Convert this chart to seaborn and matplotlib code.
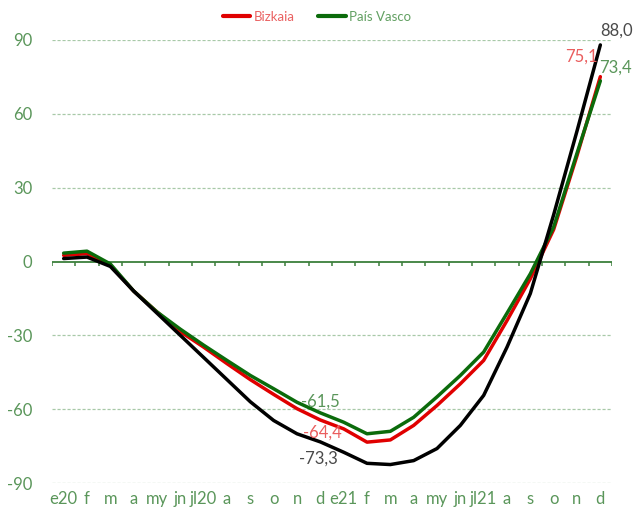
import matplotlib
matplotlib.use("Agg")
import matplotlib.pyplot as plt
import seaborn as sns
import numpy as np
import pandas as pd

months = ['e20', 'f', 'm', 'a', 'my', 'jn', 'jl20', 'a', 's', 'o', 'n', 'd',
          'e21', 'f', 'm', 'a', 'my', 'jn', 'jl21', 'a', 's', 'o', 'n', 'd']
bizkaia = [2.5, 3.2, -1.5, -12, -20.5, -28.5, -34.8, -41.5, -48, -54, -59.8, -64.4,
           -68, -73.4, -72.5, -66.6, -58.5, -49.7, -40.2, -24, -7, 13, 43, 75.1]
pais_vasco = [3.4, 4.2, -1, -12, -20.5, -27.5, -34, -40.2, -46.3, -51.7, -57.2, -61.5,
              -65.3, -70, -69, -63.3, -55, -46.3, -36.8, -21, -5, 14, 44, 73.4]
total = [1.2, 1.8, -2, -12, -21, -30, -39, -48, -57, -64.6, -70, -73.3,
         -77.5, -82, -82.5, -80.9, -76, -66.6, -54.4, -34.8, -13, 19, 53, 88.0]
y_ticks = [-90, -60, -30, 0, 30, 60, 90]

sns.set_style("white")
plt.rcParams['font.family'] = ['Lato', 'DejaVu Sans']
plt.rcParams['axes.unicode_minus'] = False

x = np.arange(len(months))
df = pd.DataFrame({'x': x, 'Bizkaia': bizkaia, 'País Vasco': pais_vasco, 'Total': total})

fig = plt.figure(figsize=(6.35, 5.14), dpi=100)
ax = fig.add_axes([52 / 635, 1 - 483 / 514, 560 / 635, 443 / 514])

RED = '#e00000'
GREEN = '#0b6b0b'
TICKC = '#5a965a'
GRID = '#a8c9a8'

for t in y_ticks:
    if t != 0:
        ax.axhline(t, color=GRID, lw=0.9, ls=(0, (2.5, 1.5)), zorder=1)
ax.axhline(0, color='#3c7f3c', lw=1.3, zorder=2)
bounds = np.arange(len(months) + 1) - 0.5
ax.vlines(bounds, -1.7, 0, color='#3c7f3c', lw=1.1, zorder=2)

sns.lineplot(data=df, x='x', y='Bizkaia', color=RED, lw=2.5, label='Bizkaia', ax=ax, zorder=3)
sns.lineplot(data=df, x='x', y='País Vasco', color=GREEN, lw=2.5, label='País Vasco', ax=ax, zorder=4)
sns.lineplot(data=df, x='x', y='Total', color='black', lw=2.5, legend=False, ax=ax, zorder=5)

ax.set_xlim(-0.5, len(months) - 0.5)
ax.set_ylim(-90, 90)
ax.set_yticks(y_ticks)
ax.set_yticklabels([str(t) for t in y_ticks])
ax.set_xticks(x)
ax.set_xticklabels(months)
ax.tick_params(axis='y', length=0, pad=14, labelsize=12, labelcolor=TICKC)
ax.tick_params(axis='x', length=0, pad=6, labelsize=12, labelcolor=TICKC)
ax.set_xlabel('')
ax.set_ylabel('')
for s in ax.spines.values():
    s.set_visible(False)

def fmt(v):
    return f"{v:.1f}".replace('.', ',')

i_d20 = 11
i_end = len(months) - 1
labels = [
    (i_d20, pais_vasco[i_d20], '#5a965a', (0, 11)),
    (i_d20, bizkaia[i_d20], '#ea5e5e', (2, -13)),
    (i_d20, total[i_d20], '#4a4a4a', (-2, -17)),
    (i_end, total[i_end], '#4a4a4a', (16, 14)),
    (i_end, bizkaia[i_end], '#ea5e5e', (-19, 20)),
    (i_end, pais_vasco[i_end], '#5a965a', (15, 13)),
]
for xi, v, c, off in labels:
    ax.annotate(fmt(v), (xi, v), xytext=off, textcoords='offset pixels',
                ha='center', va='center', color=c, fontsize=12, zorder=6,
                annotation_clip=False)

leg = ax.legend(loc='center', bbox_to_anchor=(317 / 635, 1 - 17 / 514),
                bbox_transform=fig.transFigure, ncol=2, frameon=False,
                fontsize=9.5, handlelength=2.1, handletextpad=0.25, columnspacing=1.8)
for txt, c in zip(leg.get_texts(), ['#ea6262', '#62a062']):
    txt.set_color(c)
for line in leg.get_lines():
    line.set_linewidth(3)

fig.savefig('out.png', dpi=100)
